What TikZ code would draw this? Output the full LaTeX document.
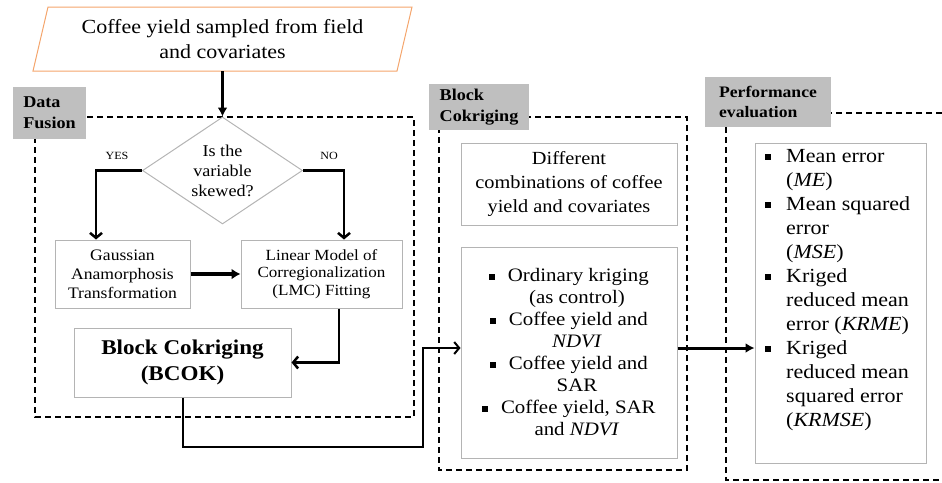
\documentclass[tikz,border=0pt]{standalone}
\usepackage{fontspec}
\setmainfont[FakeStretch=1.1]{Liberation Serif}
\usetikzlibrary{arrows.meta,shapes.geometric}
\definecolor{boxgray}{HTML}{B4B4B4}
\definecolor{lblgray}{HTML}{BFBFBF}
\definecolor{orng}{HTML}{F4A56C}
\newcommand{\sqb}{\rule[0.12em]{0.3em}{0.3em}}
\begin{document}
\begin{tikzpicture}[x=1pt,y=-1pt,
  gbox/.style={draw=boxgray, line width=1pt, inner sep=0pt, align=center},
  lbl/.style={fill=lblgray, inner sep=0pt, align=left},
  dbox/.style={dash pattern=on 6pt off 4pt, line width=1.2pt},
  arrf/.style={line width=3pt, -{Latex[length=9pt,width=10pt]}},
  arrb/.style={line width=2.5pt, -{Straight Barb[length=5pt,width=12pt,line width=2.5pt]}},
  fa/.style={font=\fontsize{#1}{#1*1.2}\selectfont}
]
\useasboundingbox (0,0) rectangle (942,482);

% dashed frames
\draw[dbox] (35,117) rectangle (414,417);
\draw[dbox] (439,117) rectangle (687,470);
\draw[dbox] (942,113) -- (726,113) -- (726,480) -- (942,480);

% labels
\node[lbl, minimum width=73pt, minimum height=52pt, font=\bfseries\fontsize{16.5}{21}\selectfont] (lf) at (49.5,113) {Data\\Fusion};
\node[lbl, minimum width=100pt, minimum height=46pt, font=\bfseries\fontsize{16.5}{21}\selectfont] (lb) at (479,107) {Block\\Cokriging};
\node[lbl, minimum width=126pt, minimum height=50pt, font=\bfseries\fontsize{16}{20}\selectfont] (lp) at (768,102) {Performance\\evaluation};

% title parallelogram
\draw[draw=orng, line width=1pt] (48,7) -- (412,7) -- (397,71) -- (33,71) -- cycle;
\node[minimum width=364pt, minimum height=64pt, inner sep=0pt, align=center, font=\fontsize{20}{25}\selectfont] (title) at (222.5,39) {Coffee yield sampled from field\\and covariates};

% diamond
\node[diamond, draw=boxgray, line width=1pt, inner sep=0pt, aspect=1.5, minimum width=160pt, minimum height=107pt, align=center, font=\fontsize{16.5}{20}\selectfont] (dia) at (222.5,170.5) {Is the\\variable\\skewed?};
\node[font=\fontsize{11}{13}\selectfont, inner sep=0pt] (yes) at (117,156) {YES};
\node[font=\fontsize{11}{13}\selectfont, inner sep=0pt] (no) at (329,156) {NO};

% boxes
\node[gbox, minimum width=135pt, minimum height=68pt, font=\fontsize{16}{19}\selectfont] (gauss) at (122.5,274) {Gaussian\\Anamorphosis\\Transformation};
\node[gbox, minimum width=161pt, minimum height=68pt, font=\fontsize{15.5}{17.5}\selectfont] (lmc) at (321.5,274) {Linear Model of\\Corregionalization\\(LMC) Fitting};
\node[gbox, minimum width=217pt, minimum height=69pt, font=\bfseries\fontsize{21}{26}\selectfont] (bcok) at (182.5,362.5) {Block Cokriging\\(BCOK)};

\node[gbox, minimum width=216pt, minimum height=82pt, font=\fontsize{18.5}{24}\selectfont] (comb) at (569,184) {Different\\combinations of coffee\\yield and covariates};
\node[gbox, minimum width=216pt, minimum height=211pt, font=\fontsize{19}{22}\selectfont] (lst) at (569,352.5) {\sqb\hspace{13pt}Ordinary kriging\\\hspace*{16pt}(as control)\\\sqb\hspace{13pt}Coffee yield and\\\hspace*{16pt}\textit{NDVI}\\\sqb\hspace{13pt}Coffee yield and\\\hspace*{16pt}SAR\\\sqb\hspace{13pt}Coffee yield, SAR\\\hspace*{16pt}and \textit{NDVI}};

\node[gbox, minimum width=171pt, minimum height=320pt] (ev) at (840.5,303) {};
\node[anchor=north west, inner sep=0pt, align=left, font=\fontsize{20}{24}\selectfont] (evtxt) at (765,149) {%
\makebox[21pt][l]{\sqb}Mean error\\
\hspace*{21pt}(\textit{ME})\\
\makebox[21pt][l]{\sqb}Mean squared\\
\hspace*{21pt}error\\
\hspace*{21pt}(\textit{MSE})\\
\makebox[21pt][l]{\sqb}Kriged\\
\hspace*{21pt}reduced mean\\
\hspace*{21pt}error (\textit{KRME})\\
\makebox[21pt][l]{\sqb}Kriged\\
\hspace*{21pt}reduced mean\\
\hspace*{21pt}squared error\\
\hspace*{21pt}(\textit{KRMSE})};

% connectors
\coordinate (c1) at (423,447);
\draw[arrf] (title.south) -- (dia.north);
\draw[arrb] (dia.west) -| ([xshift=-26.5pt]gauss.north);
\draw[arrb] (dia.east) -| ([xshift=22.5pt]lmc.north);
\draw[line width=4pt, -{Latex[length=9pt,width=11pt]}] (gauss.east) -- (lmc.west);
\draw[arrb] ([xshift=17.5pt]lmc.south) |- (bcok.east);
\draw[line width=2pt, -{Straight Barb[length=5pt,width=12pt,line width=2pt]}] (bcok.south) |- (c1) |- ([yshift=4.5pt]lst.west);
\draw[arrf] ([yshift=4.5pt]lst.east) -- ([yshift=4.5pt]lst.east -| ev.west);
\end{tikzpicture}
\end{document}
